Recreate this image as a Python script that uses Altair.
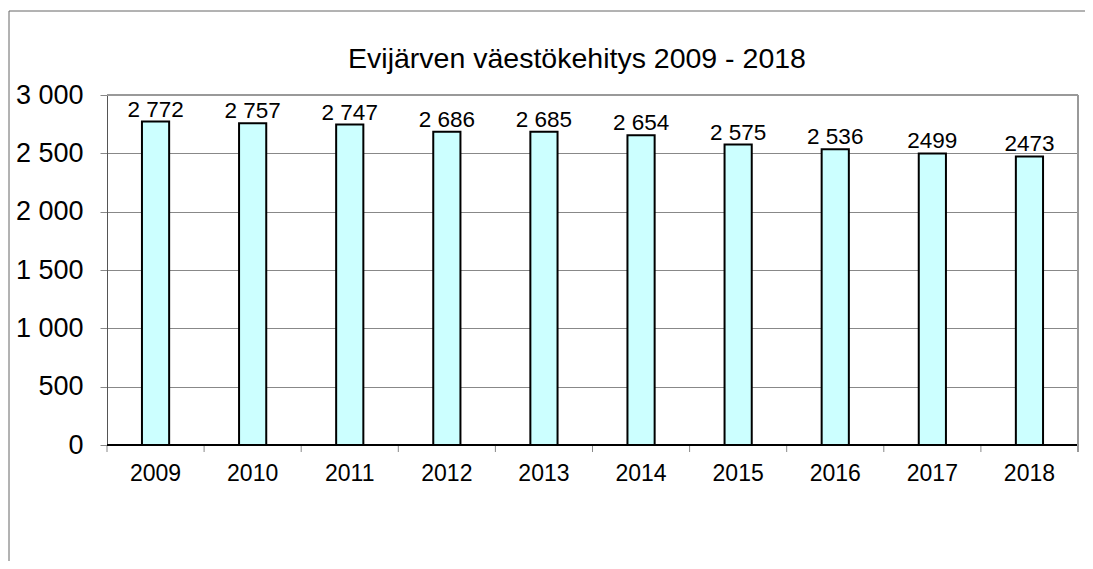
import altair as alt
import pandas as pd

years = ["2009", "2010", "2011", "2012", "2013", "2014", "2015", "2016", "2017", "2018"]
population = [2772, 2757, 2747, 2686, 2685, 2654, 2575, 2536, 2499, 2473]
labels = ["2 772", "2 757", "2 747", "2 686", "2 685", "2 654", "2 575", "2 536", "2499", "2473"]
title_text = "Evijärven väestökehitys 2009 - 2018"

df = pd.DataFrame({"year": years, "pop": population, "label": labels})
one = pd.DataFrame({"t": [title_text]})
tick_df = pd.DataFrame({"i": list(range(len(years) + 1))})

FONT = "Liberation Sans"
W, H = 971, 350

x = alt.X("year:N", title=None, sort=years,
          scale=alt.Scale(paddingInner=0.72, paddingOuter=0.36),
          axis=alt.Axis(labelAngle=0, labelFont=FONT, labelFontSize=23, labelColor="black",
                        labelPadding=17, domain=False, ticks=False, grid=False))
y = alt.Y("pop:Q", title=None,
          scale=alt.Scale(domain=[0, 3000], nice=False),
          axis=alt.Axis(values=[0, 500, 1000, 1500, 2000, 2500, 3000],
                        labelExpr="replace(format(datum.value, ','), ',', ' ')",
                        labelFont=FONT, labelFontSize=27, labelColor="black", labelPadding=17,
                        grid=True, gridColor="#888888", gridWidth=1,
                        domain=True, domainColor="#555555", domainWidth=1,
                        ticks=True, tickSize=7, tickColor="#888888", tickWidth=1))

base = alt.Chart(df)

bars = base.mark_bar(fill="#CCFFFF", stroke="black", strokeWidth=2).encode(x=x, y=y)

text = base.mark_text(baseline="alphabetic", dy=-5, font=FONT, fontSize=22.5, color="black").encode(
    x=alt.X("year:N", sort=years), y="pop:Q", text="label:N")

main = alt.layer(bars, text)

sep_ticks = alt.Chart(tick_df).mark_rule(color="#888888", strokeWidth=1).encode(
    x=alt.X("i:Q", scale=alt.Scale(domain=[0, len(years)]), axis=None),
    y=alt.value(H), y2=alt.value(H + 7))

baseline = alt.Chart(one).mark_rule(color="black", strokeWidth=2).encode(
    x=alt.value(0), x2=alt.value(W), y=alt.value(H))

top_line = alt.Chart(one).mark_rule(color="#999999", strokeWidth=2).encode(
    x=alt.value(0), x2=alt.value(W), y=alt.value(0))

right_line = alt.Chart(one).mark_rule(color="#999999", strokeWidth=2).encode(
    x=alt.value(W), y=alt.value(0), y2=alt.value(H + 7))

outer = alt.Chart(one).mark_rect(fill=None, stroke="#666666", strokeWidth=1).encode(
    x=alt.value(-98), x2=alt.value(1200), y=alt.value(-84), y2=alt.value(700))

title = alt.Chart(one).mark_text(font=FONT, fontSize=28.5, color="black", baseline="middle",
                                 align="center").encode(
    x=alt.value(470), y=alt.value(-36), text="t:N")

chart = alt.layer(outer, main, sep_ticks, baseline, top_line, right_line, title).resolve_scale(
    x="independent"
).properties(
    width=W, height=H,
    autosize=alt.AutoSizeParams(type="none"),
    padding={"left": 99, "top": 87, "right": 7, "bottom": 116},
).configure_view(stroke=None)

chart.save("out.html", embed_options={"renderer": "svg", "actions": False})
